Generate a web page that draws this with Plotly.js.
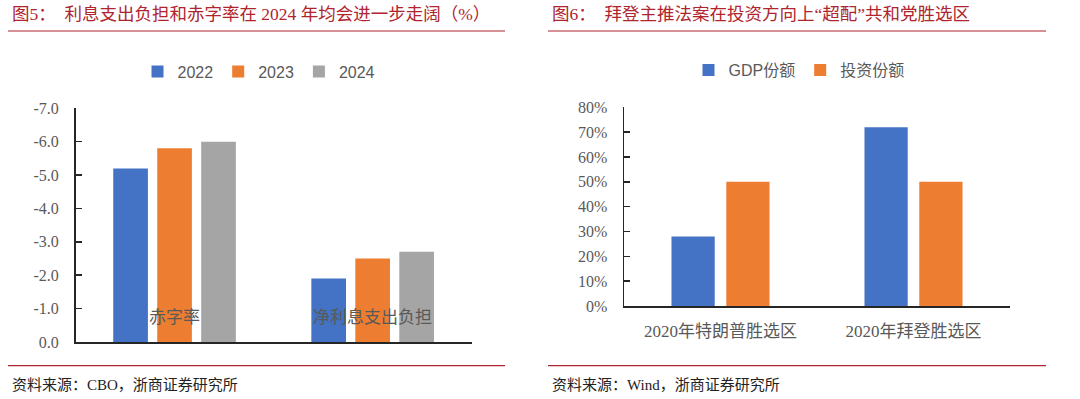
<!DOCTYPE html>
<html>
<head>
<meta charset="utf-8">
<script src="https://cdn.plot.ly/plotly-3.0.1.min.js"></script>
<style>html,body{margin:0;padding:0;background:#fff;}#chart{width:1080px;height:399px;}</style>
</head>
<body>
<div id="chart"></div>
<script>
// ---- Data: Figure 5 ----
const fig5Categories = ["赤字率", "净利息支出负担"];
const fig5Years = ["2022", "2023", "2024"];
const fig5Values2022 = [-5.2, -1.9];
const fig5Values2023 = [-5.8, -2.5];
const fig5Values2024 = [-6.0, -2.7];
const fig5TickVals = [0, -1, -2, -3, -4, -5, -6, -7];
const fig5TickText = ["0.0", "-1.0", "-2.0", "-3.0", "-4.0", "-5.0", "-6.0", "-7.0"];
const fig5Title = "图5：  利息支出负担和赤字率在 2024 年均会进一步走阔（%）";
const fig5Source = "资料来源：CBO，浙商证券研究所";

// ---- Data: Figure 6 ----
const fig6Categories = ["2020年特朗普胜选区", "2020年拜登胜选区"];
const fig6Series = ["GDP份额", "投资份额"];
const fig6GDP = [0.28, 0.72];
const fig6Invest = [0.50, 0.50];
const fig6Title = "图6：  拜登主推法案在投资方向上“超配”共和党胜选区";
const fig6Source = "资料来源：Wind，浙商证券研究所";

const BLUE = "#4472C4", ORANGE = "#ED7D31", GRAY = "#A5A5A5";
const RED = "#B0242E";
const TXT = "#595959";
const SERIF = "'Liberation Serif', 'Noto Sans CJK SC', serif";
const SANS = "'Liberation Sans', 'Noto Sans CJK SC', sans-serif";
const W = 1080, H = 399;
const px = v => v / W;
const py = v => (H - v) / H;

const w5 = 0.175, s5 = 0.222;
const fig5Data = [fig5Values2022, fig5Values2023, fig5Values2024];
const fig5Colors = [BLUE, ORANGE, GRAY];
const traces = fig5Years.map((yr, i) => ({
  type: "bar", name: yr, x: fig5Categories, y: fig5Data[i],
  xaxis: "x", yaxis: "y", legend: "legend",
  marker: {color: fig5Colors[i]},
  width: w5, offset: (i - 1) * s5 - w5 / 2,
  hoverinfo: "skip"
}));

const w6 = 0.224, s6 = 0.142;
const fig6Data = [fig6GDP, fig6Invest];
const fig6Colors = [BLUE, ORANGE];
fig6Series.forEach((nm, i) => {
  traces.push({
    type: "bar", name: nm, x: fig6Categories, y: fig6Data[i],
    xaxis: "x2", yaxis: "y2", legend: "legend2",
    marker: {color: fig6Colors[i]},
    width: w6, offset: (i === 0 ? -s6 : s6) - w6 / 2,
    hoverinfo: "skip"
  });
});

const axisLine = {showline: true, linecolor: "#262626", linewidth: 1.5, showgrid: false, zeroline: false};

const layout = {
  width: W, height: H,
  margin: {l: 0, r: 0, t: 0, b: 0},
  paper_bgcolor: "#fff", plot_bgcolor: "rgba(0,0,0,0)",
  barmode: "overlay",
  showlegend: true,
  xaxis: Object.assign({}, axisLine, {
    domain: [px(75.5), px(471.7)], anchor: "y",
    showticklabels: false, ticks: "", fixedrange: true
  }),
  yaxis: Object.assign({}, axisLine, {
    domain: [py(342), py(108.3)], anchor: "x",
    range: [0, -7], tickvals: fig5TickVals, ticktext: fig5TickText,
    ticks: "inside", ticklen: 6, tickwidth: 1.5, tickcolor: "#262626",
    ticklabelstandoff: 12,
    tickfont: {family: SERIF, size: 16, color: TXT}
  }),
  xaxis2: Object.assign({}, axisLine, {
    domain: [px(624), px(1010)], anchor: "y2",
    ticks: "", ticklabelstandoff: 9,
    tickfont: {family: SERIF, size: 17, color: TXT}
  }),
  yaxis2: Object.assign({}, axisLine, {
    domain: [py(306), py(107.3)], anchor: "x2",
    range: [0, 0.8], dtick: 0.1, tickformat: ".0%",
    ticks: "inside", ticklen: 6, tickwidth: 1.5, tickcolor: "#262626",
    ticklabelstandoff: 12,
    tickfont: {family: SERIF, size: 16, color: TXT}
  }),
  legend: {
    orientation: "h", x: px(259), xanchor: "center", y: py(71.7), yanchor: "middle",
    font: {family: SANS, size: 16, color: TXT}, itemwidth: 30, tracegroupgap: 0,
    bgcolor: "rgba(0,0,0,0)"
  },
  legend2: {
    orientation: "h", x: px(799), xanchor: "center", y: py(70), yanchor: "middle",
    font: {family: SANS, size: 16, color: TXT}, itemwidth: 30,
    bgcolor: "rgba(0,0,0,0)"
  },
  shapes: [
    {type: "line", xref: "paper", yref: "paper", x0: px(8), x1: px(505), y0: py(31), y1: py(31), line: {color: RED, width: 1.2}},
    {type: "line", xref: "paper", yref: "paper", x0: px(548), x1: px(1046), y0: py(31), y1: py(31), line: {color: RED, width: 1.2}},
    {type: "line", xref: "paper", yref: "paper", x0: px(8), x1: px(505), y0: py(365.7), y1: py(365.7), line: {color: RED, width: 1.2}},
    {type: "line", xref: "paper", yref: "paper", x0: px(548), x1: px(1046), y0: py(365.7), y1: py(365.7), line: {color: RED, width: 1.2}}
  ],
  annotations: [
    {text: fig5Title, xref: "paper", yref: "paper", x: px(10), y: py(14), xanchor: "left", yanchor: "middle", showarrow: false, font: {family: SERIF, size: 17.5, color: RED}},
    {text: fig6Title, xref: "paper", yref: "paper", x: px(550), y: py(14), xanchor: "left", yanchor: "middle", showarrow: false, font: {family: SERIF, size: 17.5, color: RED}},
    {text: fig5Source, xref: "paper", yref: "paper", x: px(10), y: py(385), xanchor: "left", yanchor: "middle", showarrow: false, font: {family: SERIF, size: 15, color: "#222"}},
    {text: fig6Source, xref: "paper", yref: "paper", x: px(550), y: py(385), xanchor: "left", yanchor: "middle", showarrow: false, font: {family: SERIF, size: 15, color: "#222"}}
  ].concat(fig5Categories.map(c => ({
    text: c, xref: "x", yref: "y", x: c, y: -0.72, xanchor: "center", yanchor: "middle",
    showarrow: false, font: {family: SERIF, size: 17, color: TXT}
  })))
};

Plotly.newPlot("chart", traces, layout, {staticPlot: true, displayModeBar: false});
</script>
</body>
</html>
